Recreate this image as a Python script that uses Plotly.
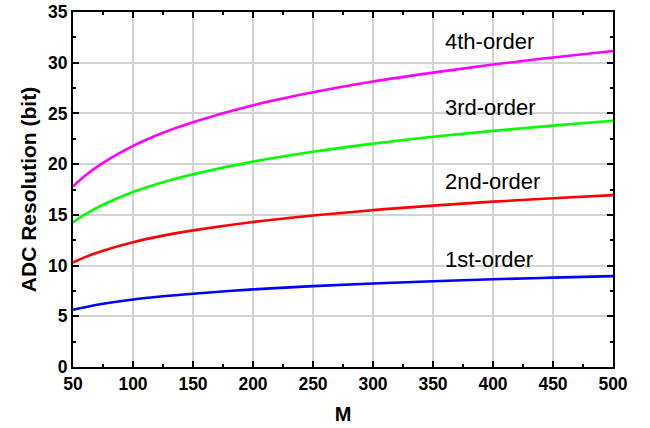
import plotly.graph_objects as go

M = [50, 60, 75, 100, 125, 150, 200, 250, 300, 350, 400, 450, 500]
first_order = [5.64, 5.9, 6.23, 6.66, 6.97, 7.22, 7.65, 7.97, 8.23, 8.45, 8.65, 8.81, 8.96]
second_order = [10.3, 10.83, 11.47, 12.3, 12.95, 13.47, 14.3, 14.94, 15.47, 15.91, 16.3, 16.64, 16.95]
third_order = [14.25, 15.05, 16.0, 17.25, 18.22, 19.0, 20.25, 21.22, 22.02, 22.7, 23.28, 23.8, 24.28]
fourth_order = [17.8, 18.86, 20.13, 21.8, 23.1, 24.14, 25.8, 27.08, 28.14, 29.02, 29.82, 30.52, 31.15]

series = [
    ("1st-order", first_order, "#0000FF", 10.56),
    ("2nd-order", second_order, "#FF0000", 18.29),
    ("3rd-order", third_order, "#00FF00", 25.57),
    ("4th-order", fourth_order, "#FF00FF", 32.08),
]
label_x = 358

fig = go.Figure()
for name, ys, color, ly in series:
    fig.add_trace(go.Scatter(x=M, y=ys, mode="lines", name=name,
                             line=dict(color=color, width=2.6, shape="spline", smoothing=1.0)))
    fig.add_annotation(x=label_x, y=ly, text=name, showarrow=False, xanchor="left",
                       yanchor="middle", font=dict(family="Liberation Sans, Arial", size=22, color="black"))

axis_common = dict(
    showline=True, linecolor="black", linewidth=2, mirror="ticks",
    ticks="inside", ticklen=6, tickwidth=1.5, tickcolor="black",
    showgrid=True, gridcolor="#d3d3d3", gridwidth=1.5, zeroline=False,
    automargin=False,
    tickfont=dict(family="Liberation Sans, Arial", size=17.5, color="black", weight="bold"),
)

fig.update_xaxes(range=[50, 500], dtick=50, tick0=50,
                 minor=dict(ticks="inside", ticklen=3, tickwidth=1.5, tickcolor="black", dtick=25, tick0=50, showgrid=False),
                 title=dict(text="<b>M</b>", font=dict(family="Liberation Sans, Arial", size=20, color="black"), standoff=14),
                 **axis_common)
fig.update_yaxes(range=[0, 35], dtick=5,
                 minor=dict(ticks="inside", ticklen=3, tickwidth=1.5, tickcolor="black", dtick=2.5, showgrid=False),
                 title=dict(text="<b>ADC Resolution (bit)</b>", font=dict(family="Liberation Sans, Arial", size=21, color="black"), standoff=6),
                 **axis_common)

fig.update_layout(
    width=650, height=428, showlegend=False,
    margin=dict(l=73, r=37, t=12, b=61),
    plot_bgcolor="white", paper_bgcolor="white",
)

fig.write_html("out.html")
